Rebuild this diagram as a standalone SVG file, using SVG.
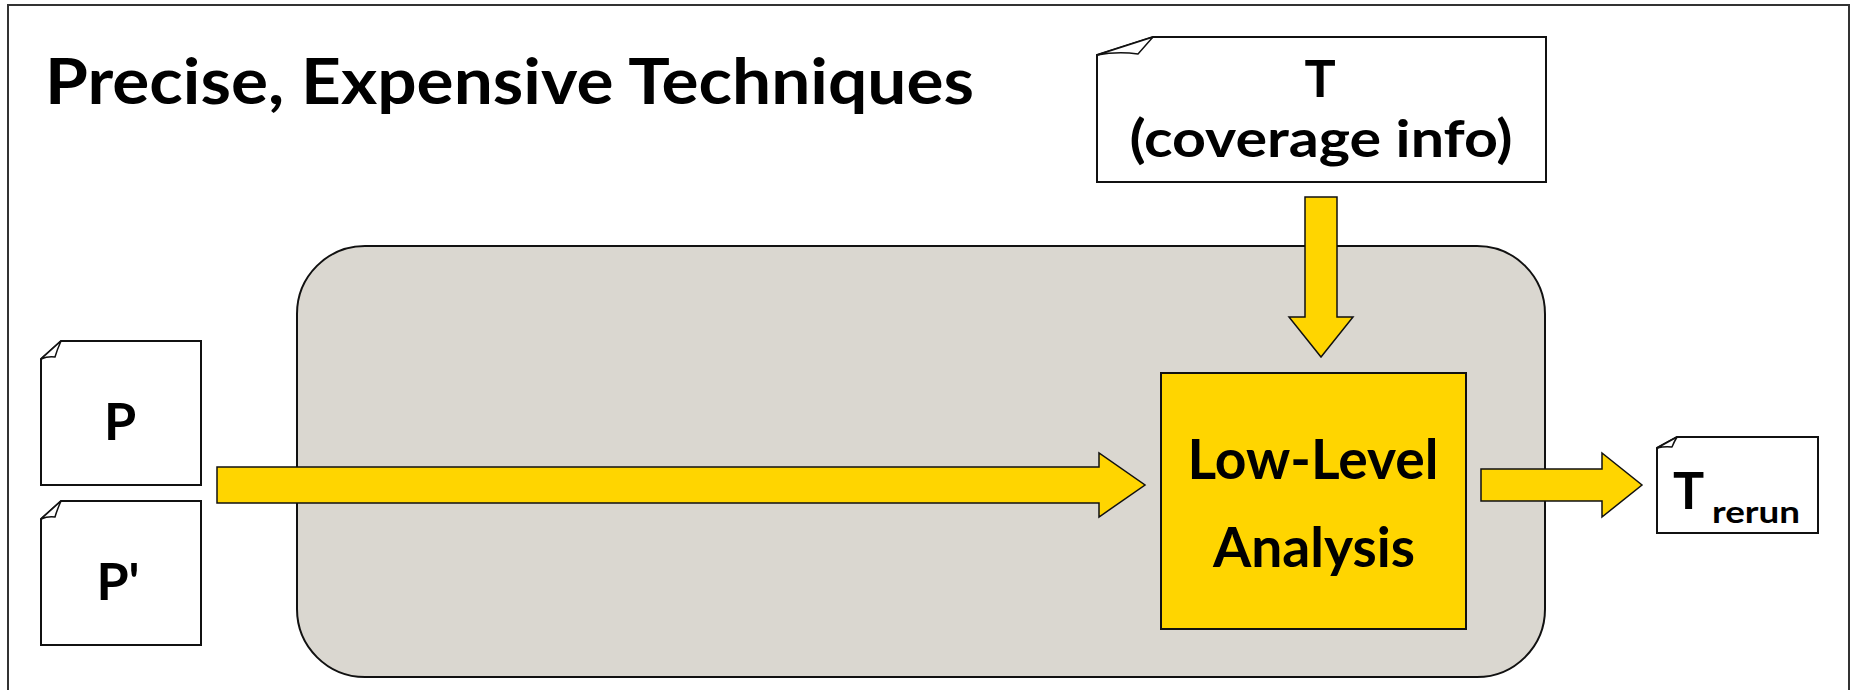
<svg xmlns="http://www.w3.org/2000/svg" width="1858" height="690" viewBox="0 0 1858 690">
<style>
.lbl{font-family:"Lato","Liberation Sans",sans-serif;font-weight:bold;fill:#000}
.doc{fill:#fff;stroke:#111;stroke-width:2}
.curl{fill:#fff;stroke:#111;stroke-width:1.5;stroke-linejoin:round}
.arrow{fill:#FFD500;stroke:#111;stroke-width:1.5;stroke-linejoin:miter}
</style>
<rect x="0" y="0" width="1858" height="690" fill="#fff"/>
<rect id="frame" x="8" y="5" width="1841" height="700" fill="none" stroke="#333" stroke-width="2"/>
<text id="title" class="lbl" x="45" y="104" font-size="64" textLength="929" lengthAdjust="spacingAndGlyphs">Precise, Expensive Techniques</text>
<g id="container">
<rect x="297" y="246" width="1248" height="431" rx="68" ry="68" fill="#DAD7D0" stroke="#111" stroke-width="2"/>
</g>
<g id="doc-P">
<path class="doc" d="M41,359 L61,341 L201,341 L201,485 L41,485 Z"/>
<path class="curl" d="M61,341 Q57,350 55,357 Q48,356 41,359 Z"/>
<text class="lbl" x="120" y="440" font-size="52" text-anchor="middle">P</text>
</g>
<g id="doc-Pprime">
<path class="doc" d="M41,519 L61,501 L201,501 L201,645 L41,645 Z"/>
<path class="curl" d="M61,501 Q57,510 55,517 Q48,516 41,519 Z"/>
<text class="lbl" x="118" y="600" font-size="52" text-anchor="middle">P'</text>
</g>
<g id="doc-T">
<path class="doc" d="M1097,55 L1153,37 L1546,37 L1546,182 L1097,182 Z"/>
<path class="curl" d="M1153,37 Q1145,46 1138,54 Q1118,51 1097,55 Z"/>
<text class="lbl" x="1320" y="97" font-size="52" text-anchor="middle">T</text>
<text class="lbl" x="1321" y="157" font-size="52" text-anchor="middle" textLength="383" lengthAdjust="spacingAndGlyphs">(coverage info)</text>
</g>
<g id="analysis">
<rect x="1161" y="373" width="305" height="256" fill="#FFD500" stroke="#111" stroke-width="2"/>
<text class="lbl" x="1313" y="479" font-size="56" text-anchor="middle" textLength="251" lengthAdjust="spacingAndGlyphs">Low-Level</text>
<text class="lbl" x="1314" y="567" font-size="56" text-anchor="middle" textLength="202" lengthAdjust="spacingAndGlyphs">Analysis</text>
</g>
<g id="doc-Trerun">
<path class="doc" d="M1657,448 L1677,437 L1818,437 L1818,533 L1657,533 Z"/>
<path class="curl" d="M1677,437 Q1674,442 1672,447 Q1665,446 1657,448 Z"/>
<text class="lbl" x="1673" y="509" font-size="52">T</text>
<text class="lbl" x="1712" y="523" font-size="30" textLength="88" lengthAdjust="spacingAndGlyphs">rerun</text>
</g>
<g id="connectors">
<polygon class="arrow" points="217,467 1099,467 1099,453 1145,485 1099,517 1099,503 217,503"/>
<polygon class="arrow" points="1305,197 1337,197 1337,317 1353,317 1321,357 1289,317 1305,317"/>
<polygon class="arrow" points="1481,469 1602,469 1602,453 1642,485 1602,517 1602,501 1481,501"/>
</g>
</svg>
